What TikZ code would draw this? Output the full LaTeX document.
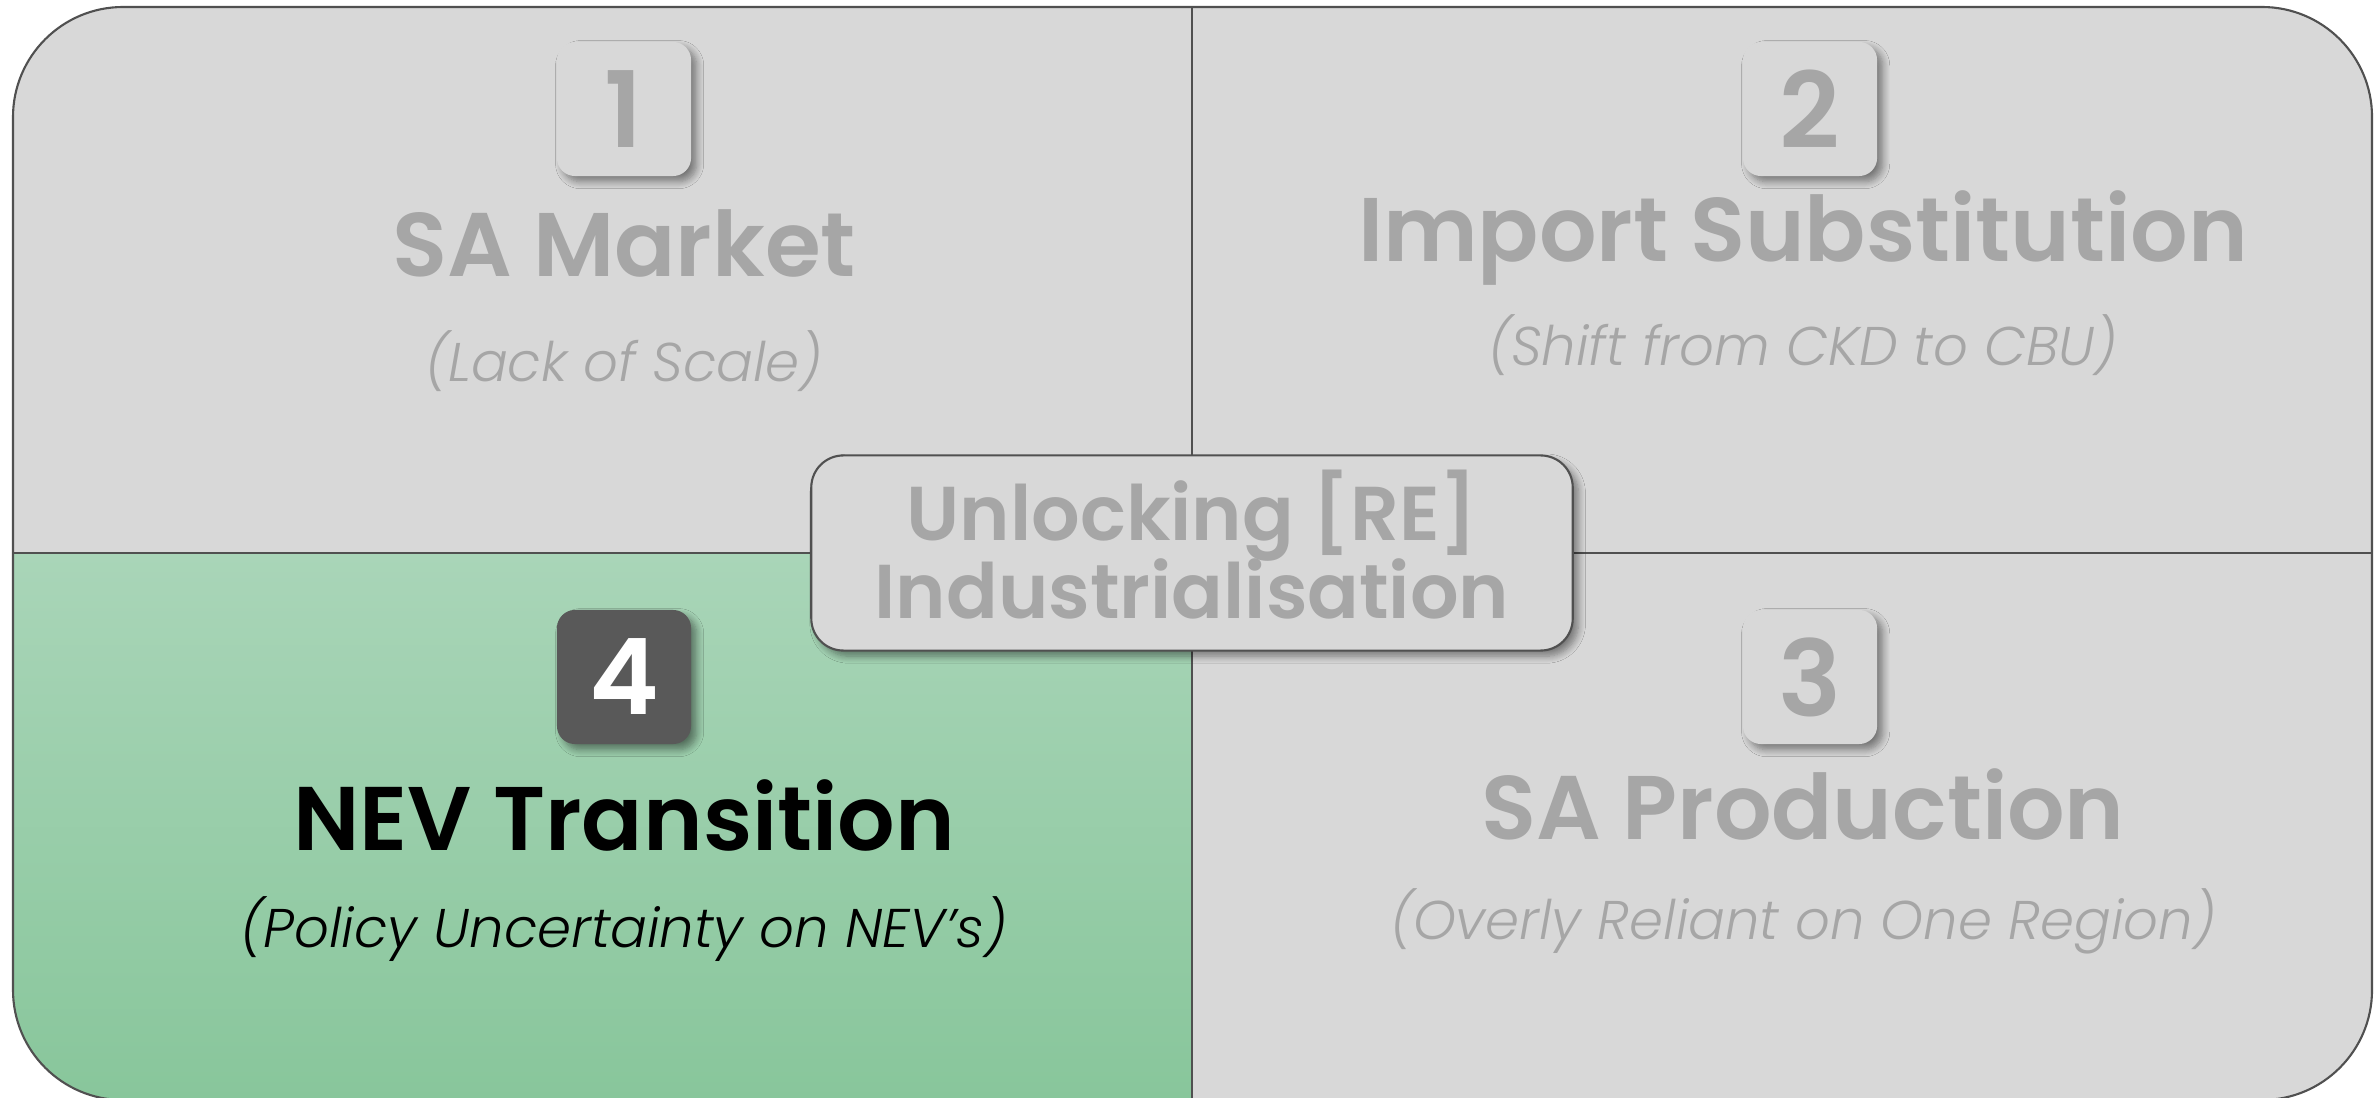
\documentclass[tikz,border=0pt]{standalone}
\usepackage{fontspec}
\setmainfont{Poppins}[BoldFont={* SemiBold}, ItalicFont={* Light Italic}]
\usepackage{tikz}
\usetikzlibrary{positioning,shadows,shadows.blur,calc}
\definecolor{quadgrey}{HTML}{D8D8D8}
\definecolor{textgrey}{HTML}{A6A6A6}
\definecolor{rimgrey}{HTML}{505050}
\definecolor{badgedark}{HTML}{595959}
\definecolor{greentop}{HTML}{A9D5B8}
\definecolor{greenbot}{HTML}{88C69B}

\begin{document}
\begin{tikzpicture}[
  x=0.01cm, y=-0.01cm,
  rim/.style={draw=rimgrey, line width=0.6pt},
  soft/.style={blur shadow={shadow xshift=1.6pt, shadow yshift=-1.6pt,
               shadow blur radius=2pt, shadow blur steps=8, shadow opacity=45}},
  badge/.style={rectangle, rounded corners=0.18cm, minimum size=1.34cm, inner sep=0pt,
                fill=quadgrey, text=textgrey, font=\fontsize{30}{30}\selectfont\bfseries,
                soft},
  ttl/.style={font=\fontsize{25.7}{25.7}\selectfont\bfseries, text=textgrey},
  sub/.style={font=\fontsize{15.5}{15.5}\selectfont\itshape, text=textgrey},
  hub/.style={rectangle, rounded corners=0.32cm, draw=rimgrey, line width=0.6pt,
              fill=quadgrey, minimum width=7.61cm, minimum height=1.95cm,
              text=textgrey, align=center, text depth=5pt,
              font=\fontsize{21.7}{21.6}\selectfont\bfseries, soft}]

\useasboundingbox (0,0) rectangle (2380,1098);

% ================= the four quadrants ====================================
\begin{scope}
  \clip[rounded corners=1.1cm] (13,7) rectangle (2372,1100);
  \fill[quadgrey] (0,0) rectangle (2380,1100);
  \shade[top color=greentop, bottom color=greenbot] (0,553) rectangle (1192,1100);
\end{scope}
\draw[rim, rounded corners=1.1cm] (13,7) rectangle (2372,1100);
\draw[rim] (1192,7) -- (1192,1100);
\draw[rim] (13,553) -- (2372,553);

% ================= numbers, titles, notes ================================
\node[badge] (b1) at (624,109) {1};
\node[ttl]   (t1) at (624,243) {SA Market};
\node[sub]   (s1) at (624,361) {(Lack of Scale)};

\node[badge] (b2) at (1810,109) {2};
\node[ttl]   (t2) at (1803,238) {Import Substitution};
\node[sub]   (s2) at (1803,345) {(Shift from CKD to CBU)};

\node[badge] (b3) at (1810,677) {3};
\node[ttl]   (t3) at (1803,804) {SA Production};
\node[sub]   (s3) at (1803,921) {(Overly Reliant on One Region)};

\node[badge, fill=badgedark, text=white] (b4) at (624,677) {4};
\node[ttl, text=black] (t4) at (624,815) {NEV Transition};
\node[sub, text=black] (s4) at (624,929) {(Policy Uncertainty on NEV’s)};

% the hub in the middle
\node[hub] (hub) at (1192,553) {Unlocking [RE]\\[-1.5pt]Industrialisation};

\end{tikzpicture}
\end{document}
